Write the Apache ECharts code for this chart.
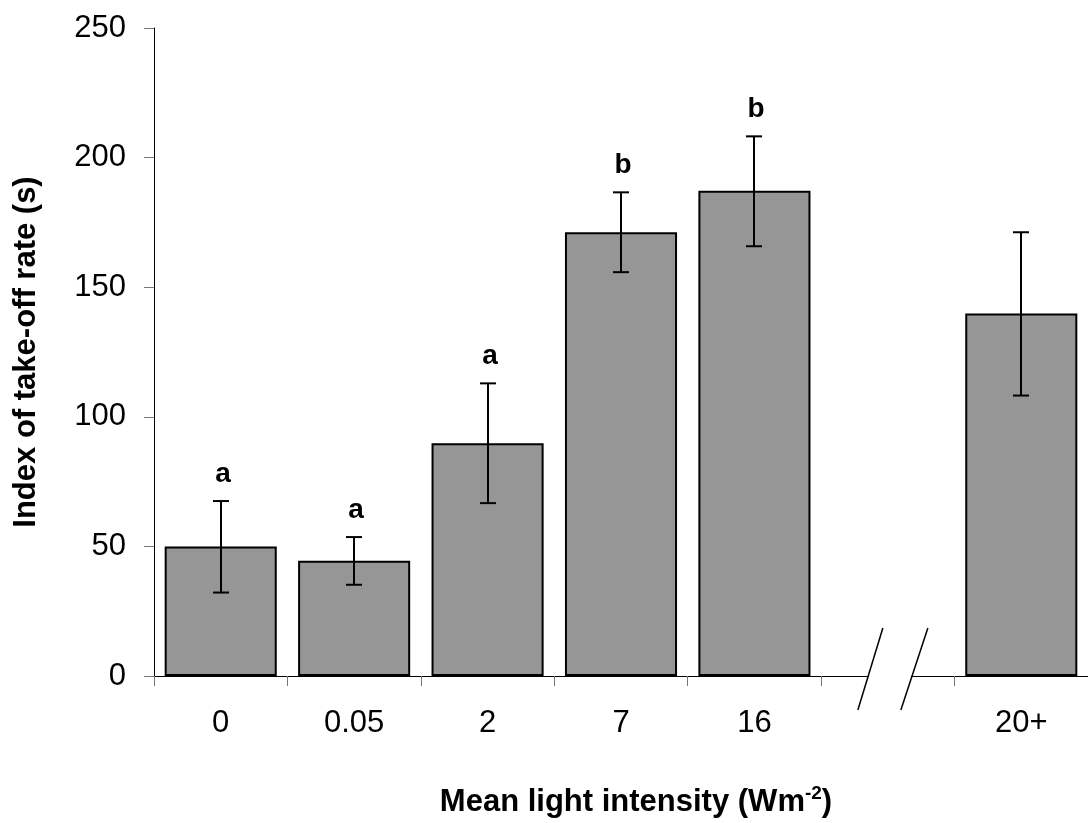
<!DOCTYPE html>
<html>
<head>
<meta charset="utf-8">
<script src="https://cdn.jsdelivr.net/npm/echarts@6/dist/echarts.min.js"></script>
<style>
  html, body { margin: 0; padding: 0; background: #fff; }
  #chart { width: 1088px; height: 823px; }
</style>
</head>
<body>
<div id="chart"></div>
<script type="text/javascript">
  // light intensity groups (6th slot is the axis break)
  var categories = ['0', '0.05', '2', '7', '16', '', '20+'];
  var means      = [50, 44.5, 89.8, 171.2, 187.2, null, 139.9];
  var errHigh    = [67.5, 53.6, 112.9, 186.6, 208.2, null, 171.2];
  var errLow     = [32.2, 35.2, 66.7, 155.8, 165.8, null, 108.2];
  var letters    = ['a', 'a', 'a', 'b', 'b', '', ''];
  var yTicks     = [0, 50, 100, 150, 200, 250];
  var breakIndex = 5;

  var FONT = 'Arial, "Liberation Sans", sans-serif';

  var errData = [];
  for (var i = 0; i < categories.length; i++) {
    if (errHigh[i] != null) errData.push([i, errHigh[i], errLow[i]]);
  }

  var myChart = echarts.init(document.getElementById('chart'));
  var option = {
    animation: false,
    backgroundColor: '#fff',
    grid: { left: 154, top: 28, right: -5, bottom: 145, containLabel: false },
    xAxis: {
      type: 'category',
      data: categories,
      name: 'Mean light intensity (Wm{sup|-2})',
      nameLocation: 'middle',
      nameGap: 108,
      nameTextStyle: {
        fontFamily: FONT, fontWeight: 'bold', fontSize: 31, color: '#000',
        padding: [0, 0, 0, 30],
        rich: {
          sup: { fontFamily: FONT, fontWeight: 'bold', fontSize: 19, color: '#000', verticalAlign: 'top', padding: [0, 0, 18, 0] }
        }
      },
      axisLine: { lineStyle: { color: '#000', width: 1 } },
      axisTick: { show: true, interval: 0, length: 10, lineStyle: { color: '#777' } },
      axisLabel: { interval: 0, margin: 32, fontFamily: FONT, fontSize: 31, color: '#000' },
      splitLine: { show: false }
    },
    yAxis: {
      type: 'value',
      min: yTicks[0],
      max: yTicks[yTicks.length - 1],
      interval: 50,
      name: 'Index of take-off rate (s)',
      nameLocation: 'middle',
      nameGap: 112,
      nameRotate: 90,
      nameTextStyle: { fontFamily: FONT, fontWeight: 'bold', fontSize: 31, color: '#000' },
      axisLine: { show: true, lineStyle: { color: '#000', width: 1 } },
      axisTick: { show: true, length: 10, lineStyle: { color: '#777' } },
      axisLabel: { margin: 28, fontFamily: FONT, fontSize: 31, color: '#000' },
      splitLine: { show: false }
    },
    series: [
      {
        type: 'bar',
        data: means,
        barCategoryGap: '16%',
        itemStyle: { color: '#969696', borderColor: '#000', borderWidth: 2 },
        silent: true
      },
      {
        type: 'custom',
        data: errData,
        z: 5,
        renderItem: function (params, api) {
          var idx = api.value(0);
          var hi = api.coord([idx, api.value(1)]);
          var lo = api.coord([idx, api.value(2)]);
          var x = Math.round(hi[0]);
          var cap = 8;
          var ls = { stroke: '#000', lineWidth: 2 };
          var children = [
            { type: 'line', shape: { x1: x, y1: hi[1], x2: x, y2: lo[1] }, style: ls },
            { type: 'line', shape: { x1: x - cap, y1: hi[1], x2: x + cap, y2: hi[1] }, style: ls },
            { type: 'line', shape: { x1: x - cap, y1: lo[1], x2: x + cap, y2: lo[1] }, style: ls }
          ];
          if (letters[idx]) {
            children.push({
              type: 'text',
              style: {
                text: letters[idx], x: x + 2, y: hi[1] - 13,
                align: 'center', verticalAlign: 'bottom',
                font: 'bold 28px ' + FONT, fill: '#000'
              }
            });
          }
          return { type: 'group', children: children };
        }
      }
    ]
  };
  myChart.setOption(option);

  // axis break marks drawn in the empty category slot
  var c = myChart.convertToPixel({ xAxisIndex: 0 }, breakIndex);
  var y0 = myChart.convertToPixel({ yAxisIndex: 0 }, 0);
  var bs = { stroke: '#000', lineWidth: 1.5 };
  myChart.setOption({
    graphic: [
      { type: 'rect', shape: { x: c - 19, y: y0 - 3, width: 42, height: 6 }, style: { fill: '#fff' }, z: 100 },
      { type: 'line', shape: { x1: c - 30, y1: y0 + 34, x2: c - 5, y2: y0 - 48 }, style: bs, z: 101 },
      { type: 'line', shape: { x1: c + 13, y1: y0 + 34, x2: c + 40, y2: y0 - 48 }, style: bs, z: 101 }
    ]
  });

  window.addEventListener('resize', function () {
    myChart.resize();
  });
</script>
</body>
</html>
